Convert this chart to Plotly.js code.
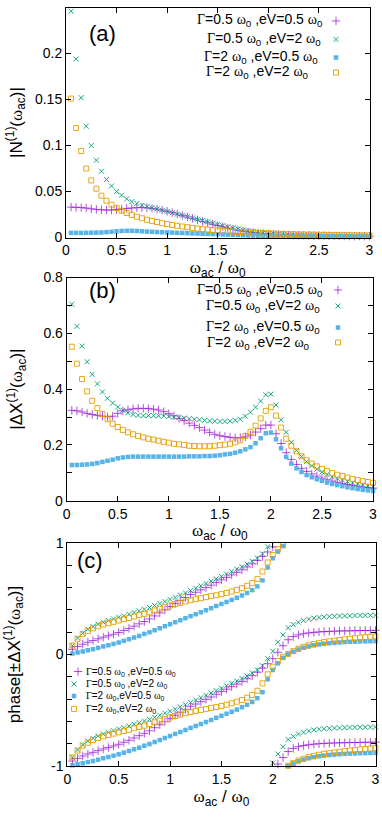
<!DOCTYPE html>
<html>
<head>
<meta charset="utf-8">
<script src="https://cdn.plot.ly/plotly-3.0.1.min.js"></script>
<style>html,body{margin:0;padding:0;background:#fff}#chart{width:382px;height:817px}</style>
</head>
<body>
<div id="chart"></div>
<script>
// ---------- data ----------
const omega = [0.05,0.10,0.15,0.20,0.25,0.30,0.35,0.40,0.45,0.50,0.55,0.60,0.65,0.70,0.75,0.80,0.85,0.90,0.95,1.00,
  1.05,1.10,1.15,1.20,1.25,1.30,1.35,1.40,1.45,1.50,1.55,1.60,1.65,1.70,1.75,1.80,1.85,1.90,1.95,2.00,
  2.05,2.10,2.15,2.20,2.25,2.30,2.35,2.40,2.45,2.50,2.55,2.60,2.65,2.70,2.75,2.80,2.85,2.90,2.95,3.00];

const xTicks = [0, 0.5, 1, 1.5, 2, 2.5, 3];
const yTicksA = [0, 0.05, 0.1, 0.15, 0.2, 0.25];
const yTicksB = [0, 0.2, 0.4, 0.6, 0.8];
const yTicksC = [-1, 0, 1];
const yTickTextC = ['-1', '0', '1'];

// panel (a) |N(1)(w_ac)|
const a_g05_ev05 = [0.0330,0.0328,0.0325,0.0320,0.0312,0.0306,0.0301,0.0298,0.0299,0.0304,0.0310,0.0316,0.0321,0.0324,0.0325,0.0323,0.0317,0.0308,0.0297,0.0284,
  0.0270,0.0255,0.0240,0.0224,0.0208,0.0192,0.0176,0.0160,0.0145,0.0130,0.0116,0.0103,0.0091,0.0080,0.0070,0.0062,0.0055,0.0049,0.0044,0.0040,
  0.0036,0.0033,0.0030,0.0028,0.0026,0.0024,0.0023,0.0022,0.0021,0.0020,0.0019,0.0018,0.0017,0.0017,0.0016,0.0016,0.0015,0.0015,0.0014,0.0014];
const a_g05_ev2 = [0.246,0.194,0.152,0.121,0.100,0.084,0.072,0.063,0.056,0.050,0.046,0.042,0.039,0.037,0.035,0.0335,0.0322,0.0310,0.0296,0.0282,
  0.0268,0.0254,0.0240,0.0226,0.0212,0.0198,0.0184,0.0170,0.0156,0.0142,0.0129,0.0116,0.0104,0.0093,0.0083,0.0074,0.0066,0.0059,0.0053,0.0048,
  0.0043,0.0039,0.0035,0.0032,0.0030,0.0028,0.0026,0.0024,0.0023,0.0022,0.0021,0.0020,0.0019,0.0018,0.0018,0.0017,0.0017,0.0016,0.0016,0.0015];
const a_g2_ev05 = [0.0050,0.0050,0.0050,0.0051,0.0052,0.0053,0.0055,0.0058,0.0062,0.0067,0.0071,0.0073,0.0073,0.0071,0.0068,0.0065,0.0062,0.0059,0.0057,0.0055,
  0.0053,0.0051,0.0049,0.0047,0.0045,0.0043,0.0041,0.0039,0.0037,0.0035,0.0033,0.0031,0.0029,0.0027,0.0025,0.0023,0.0021,0.0019,0.0018,0.0016,
  0.0015,0.0014,0.0013,0.0012,0.0011,0.0011,0.0010,0.0010,0.0010,0.0009,0.0009,0.0009,0.0009,0.0008,0.0008,0.0008,0.0008,0.0008,0.0008,0.0008];
const a_g2_ev2 = [0.151,0.119,0.094,0.075,0.062,0.053,0.0455,0.0400,0.0357,0.0320,0.0291,0.0266,0.0245,0.0226,0.0209,0.0193,0.0180,0.0168,0.0156,0.0146,
  0.0136,0.0127,0.0119,0.0111,0.0104,0.0097,0.0091,0.0085,0.0080,0.0075,0.0071,0.0067,0.0063,0.0060,0.0057,0.0054,0.0051,0.0049,0.0047,0.0045,
  0.0043,0.0041,0.0039,0.0037,0.0036,0.0034,0.0033,0.0032,0.0031,0.0030,0.0029,0.0028,0.0027,0.0026,0.0026,0.0025,0.0024,0.0024,0.0023,0.0023];

// panel (b) |dX(1)(w_ac)|
const b_g05_ev05 = [0.324,0.322,0.318,0.313,0.309,0.306,0.303,0.301,0.303,0.313,0.322,0.326,0.329,0.331,0.331,0.330,0.328,0.325,0.319,0.312,
  0.304,0.295,0.287,0.278,0.270,0.262,0.253,0.245,0.238,0.233,0.230,0.227,0.225,0.226,0.229,0.235,0.246,0.258,0.271,0.271,
  0.240,0.205,0.172,0.148,0.130,0.116,0.105,0.096,0.088,0.081,0.075,0.070,0.066,0.062,0.058,0.055,0.052,0.049,0.047,0.045];
const b_g05_ev2 = [0.704,0.625,0.554,0.498,0.453,0.419,0.390,0.367,0.350,0.336,0.324,0.315,0.309,0.306,0.305,0.305,0.305,0.304,0.303,0.302,
  0.300,0.298,0.296,0.294,0.292,0.290,0.288,0.286,0.285,0.284,0.284,0.285,0.288,0.292,0.303,0.317,0.335,0.357,0.380,0.382,
  0.343,0.290,0.245,0.209,0.180,0.158,0.140,0.125,0.113,0.103,0.094,0.086,0.080,0.074,0.069,0.064,0.060,0.056,0.053,0.050];
const b_g2_ev05 = [0.128,0.128,0.129,0.130,0.132,0.135,0.139,0.143,0.147,0.152,0.155,0.157,0.158,0.158,0.158,0.158,0.158,0.158,0.158,0.158,
  0.158,0.158,0.158,0.159,0.159,0.159,0.160,0.160,0.161,0.163,0.166,0.168,0.172,0.177,0.184,0.192,0.206,0.224,0.242,0.244,
  0.220,0.188,0.157,0.133,0.116,0.103,0.092,0.084,0.077,0.071,0.065,0.060,0.056,0.052,0.048,0.045,0.042,0.039,0.037,0.035];
const b_g2_ev2 = [0.552,0.491,0.436,0.392,0.358,0.332,0.311,0.292,0.276,0.264,0.253,0.245,0.238,0.232,0.227,0.222,0.219,0.215,0.211,0.208,
  0.204,0.202,0.200,0.197,0.196,0.195,0.195,0.195,0.197,0.199,0.201,0.204,0.209,0.216,0.232,0.247,0.269,0.295,0.322,0.335,
  0.305,0.262,0.222,0.197,0.177,0.159,0.145,0.133,0.123,0.114,0.106,0.099,0.093,0.088,0.083,0.078,0.074,0.070,0.067,0.064];

// panel (c) phase of +dX(1) in units of pi (unwrapped); the -dX(1) branch is the same phase shifted by one pi
const c_g05_ev05 = [0.047,0.071,0.092,0.110,0.125,0.140,0.155,0.168,0.182,0.197,0.215,0.233,0.253,0.274,0.295,0.318,0.345,0.372,0.399,0.429,
  0.456,0.483,0.510,0.537,0.557,0.578,0.599,0.620,0.645,0.668,0.690,0.712,0.735,0.758,0.783,0.810,0.841,0.877,0.917,0.963,
  1.020,1.078,1.132,1.160,1.175,1.186,1.193,1.198,1.202,1.205,1.207,1.209,1.210,1.211,1.212,1.213,1.214,1.215,1.215,1.216];
const c_g05_ev2 = [0.080,0.146,0.190,0.226,0.250,0.271,0.289,0.304,0.318,0.334,0.345,0.360,0.376,0.390,0.405,0.420,0.438,0.456,0.474,0.492,
  0.510,0.531,0.551,0.572,0.593,0.614,0.635,0.656,0.677,0.698,0.720,0.742,0.763,0.785,0.808,0.834,0.862,0.900,0.963,1.030,
  1.110,1.175,1.240,1.268,1.289,1.304,1.316,1.325,1.331,1.336,1.339,1.342,1.344,1.346,1.347,1.348,1.349,1.350,1.350,1.351];
const c_g2_ev05 = [0.009,0.018,0.027,0.038,0.047,0.059,0.072,0.083,0.095,0.107,0.122,0.137,0.152,0.166,0.184,0.199,0.217,0.235,0.253,0.271,
  0.289,0.307,0.325,0.343,0.360,0.378,0.396,0.414,0.434,0.452,0.470,0.488,0.507,0.528,0.550,0.576,0.609,0.663,0.778,0.861,
  0.921,0.970,1.002,1.025,1.045,1.060,1.072,1.082,1.090,1.096,1.101,1.105,1.108,1.111,1.113,1.115,1.117,1.118,1.119,1.120];
const c_g2_ev2 = [0.080,0.140,0.184,0.211,0.235,0.253,0.268,0.280,0.292,0.304,0.316,0.327,0.340,0.352,0.363,0.378,0.394,0.408,0.423,0.438,
  0.450,0.462,0.474,0.486,0.495,0.504,0.513,0.522,0.530,0.540,0.551,0.564,0.578,0.593,0.614,0.638,0.676,0.742,0.823,0.891,
  0.942,0.980,1.005,1.030,1.052,1.068,1.082,1.094,1.103,1.111,1.118,1.124,1.130,1.136,1.141,1.146,1.151,1.155,1.159,1.163];

// ---------- styling ----------
const FONT = 'Liberation Sans, Arial, sans-serif';
const SERIF = 'Liberation Serif';
const colors = ['#9400d3','#009e73','#56b4e9','#e69f00'];
const symbols = ['cross-thin-open','x-thin-open','square','square-open'];
const msize = [6,5,4.5,5];
const mline = [0.7,0.9,0,0.9];

const G = '<span style="font-family:' + SERIF + '">Γ</span>';
const W = '<span style="font-family:' + SERIF + '">ω</span>';
const W0 = W + '<sub>0</sub>';
const labelsAB = [
  G + '=0.5 ' + W0 + ' ,eV=0.5 ' + W0,
  G + '=0.5 ' + W0 + ' ,eV=2 ' + W0,
  G + '=2 ' + W0 + ' ,eV=0.5 ' + W0,
  G + '=2 ' + W0 + ' ,eV=2 ' + W0
];
const labelsC = [
  G + '=0.5 ' + W0 + ' ,eV=0.5 ' + W0,
  G + '=0.5 ' + W0 + ' ,eV=2 ' + W0,
  G + '=2 ' + W0 + ',eV=0.5 ' + W0,
  G + '=2 ' + W0 + ',eV=2 ' + W0
];

const H = 817, Wd = 382;
const px = v => v / Wd;
const py = v => 1 - v / H;
const wrap = v => (v > 1 ? v - 2 : v);

const dataA = [a_g05_ev05, a_g05_ev2, a_g2_ev05, a_g2_ev2];
const dataB = [b_g05_ev05, b_g05_ev2, b_g2_ev05, b_g2_ev2];
const dataC = [c_g05_ev05, c_g05_ev2, c_g2_ev05, c_g2_ev2];

const traces = [];
let legendCount = 0;
const legends = {};
// one legend per key so that each key sits where the reference puts it (symbol centre = left + 20 px)
function legendKey(xp, yp) {
  legendCount++;
  const key = legendCount === 1 ? 'legend' : 'legend' + legendCount;
  legends[key] = {x: px(xp - 20), y: py(yp), xanchor: 'left', yanchor: 'middle',
    bgcolor: 'rgba(0,0,0,0)', borderwidth: 0, font: {size: 10, family: FONT}, itemwidth: 30};
  return key;
}
function marker(i) {
  return {symbol: symbols[i], size: msize[i], color: colors[i], line: {color: colors[i], width: mline[i]}};
}

const legA = [[336,21],[336,39.5],[336,57.5],[336,72.5]];
dataA.forEach((ys, i) => {
  traces.push({x: omega, y: ys, xaxis: 'x', yaxis: 'y', type: 'scatter', mode: 'markers',
    name: ' ', marker: marker(i), cliponaxis: false, legend: legendKey(legA[i][0], legA[i][1])});
});
const legB = [[338,290],[338,306],[338,327.5],[338,342.5]];
dataB.forEach((ys, i) => {
  traces.push({x: omega, y: ys, xaxis: 'x2', yaxis: 'y2', type: 'scatter', mode: 'markers',
    name: ' ', marker: marker(i), cliponaxis: false, legend: legendKey(legB[i][0], legB[i][1])});
});
const legC = [[78,671.5],[74,684],[74,696],[74,709]];
dataC.forEach((ph, i) => {
  traces.push({x: omega, y: ph.map(wrap), xaxis: 'x3', yaxis: 'y3', type: 'scatter', mode: 'markers',
    name: ' ', marker: marker(i), cliponaxis: false, legend: legendKey(legC[i][0], legC[i][1])});
  traces.push({x: omega, y: ph.map(v => wrap(v - 1)), xaxis: 'x3', yaxis: 'y3', type: 'scatter', mode: 'markers',
    name: ' ', marker: marker(i), cliponaxis: false, showlegend: false});
});

// ---------- axes ----------
const tickfont = {size: 14, family: FONT, color: '#000'};
function xax(dom, anchor, standoff) {
  return {domain: dom, anchor: anchor, range: [0, 3], tickmode: 'array', tickvals: xTicks,
    ticks: 'inside', ticklen: 5, tickcolor: '#000', mirror: 'ticks', showline: true, linecolor: '#000', linewidth: 1,
    showgrid: false, zeroline: false, tickfont: tickfont, automargin: false,
    title: {text: W + '<sub>ac</sub> / ' + W + '<sub>0</sub>', font: {size: 17, family: FONT, color: '#000'}, standoff: standoff}};
}
function yax(dom, anchor, extra, titleText, standoff) {
  return Object.assign({domain: dom, anchor: anchor,
    ticks: 'inside', ticklen: 5, tickcolor: '#000', mirror: 'ticks', showline: true, linecolor: '#000', linewidth: 1,
    showgrid: false, zeroline: false, tickfont: tickfont, automargin: false,
    title: {text: titleText, font: {size: 17, family: FONT, color: '#000'}, standoff: standoff}}, extra);
}

const layout = Object.assign({
  width: Wd, height: H, margin: {l: 0, r: 0, t: 0, b: 0},
  paper_bgcolor: '#fff', plot_bgcolor: '#fff', font: {family: FONT, color: '#000'},
  showlegend: true,
  xaxis: xax([px(66), px(369.5)], 'y', 1),
  yaxis: yax([py(237.5), py(7.5)], 'x', {range: [0, 0.25], tickmode: 'array', tickvals: yTicksA},
    '|N<sup>(1)</sup>(' + W + '<sub>ac</sub>)|', 8),
  xaxis2: xax([px(66.7), px(373)], 'y2', 3),
  yaxis2: yax([py(500.7), py(277.5)], 'x2', {range: [0, 0.8], tickmode: 'array', tickvals: yTicksB,
    minor: {tickmode: 'linear', tick0: 0, dtick: 0.1, ticks: 'inside', ticklen: 5, tickcolor: '#000'}},
    '|ΔX<sup>(1)</sup>(' + W + '<sub>ac</sub>)|', 16),
  xaxis3: xax([px(67.3), px(375.5)], 'y3', 4),
  yaxis3: yax([py(766.3), py(542.7)], 'x3', {range: [-1, 1], tickmode: 'array', tickvals: yTicksC, ticktext: yTickTextC,
    minor: {tickmode: 'linear', tick0: 0, dtick: 0.2, ticks: 'inside', ticklen: 5, tickcolor: '#000'}},
    'phase[±ΔX<sup>(1)</sup>(' + W + '<sub>ac</sub>)]', 26),
  annotations: []
}, legends);

// panel labels
[['(a)', 102, 33], ['(b)', 102, 290], ['(c)', 90, 560]].forEach(l => {
  layout.annotations.push({text: l[0], xref: 'paper', yref: 'paper', x: px(l[1]), y: py(l[2]),
    xanchor: 'center', yanchor: 'middle', showarrow: false, font: {size: 22, family: FONT, color: '#000'}});
});
// legend texts of (a) and (b): right aligned, keys to their right
const txtA = [[325,20],[322.7,39],[320,57],[311,72]];
const txtB = [[325,290],[322,306],[322,327],[312,343]];
labelsAB.forEach((t, i) => {
  layout.annotations.push({text: t, xref: 'paper', yref: 'paper', x: px(txtA[i][0]), y: py(txtA[i][1]),
    xanchor: 'right', yanchor: 'middle', showarrow: false, font: {size: 14, family: FONT, color: '#000'}});
  layout.annotations.push({text: t, xref: 'paper', yref: 'paper', x: px(txtB[i][0]), y: py(txtB[i][1]),
    xanchor: 'right', yanchor: 'middle', showarrow: false, font: {size: 14, family: FONT, color: '#000'}});
});
// legend texts of (c): left aligned, keys to their left
const txtC = [[84,671.5],[84,684],[84,696],[84,709]];
labelsC.forEach((t, i) => {
  layout.annotations.push({text: t, xref: 'paper', yref: 'paper', x: px(txtC[i][0]), y: py(txtC[i][1]),
    xanchor: 'left', yanchor: 'middle', showarrow: false, font: {size: 10, family: FONT, color: '#000'}});
});

Plotly.newPlot('chart', traces, layout, {displayModeBar: false, staticPlot: true});
</script>
</body>
</html>
